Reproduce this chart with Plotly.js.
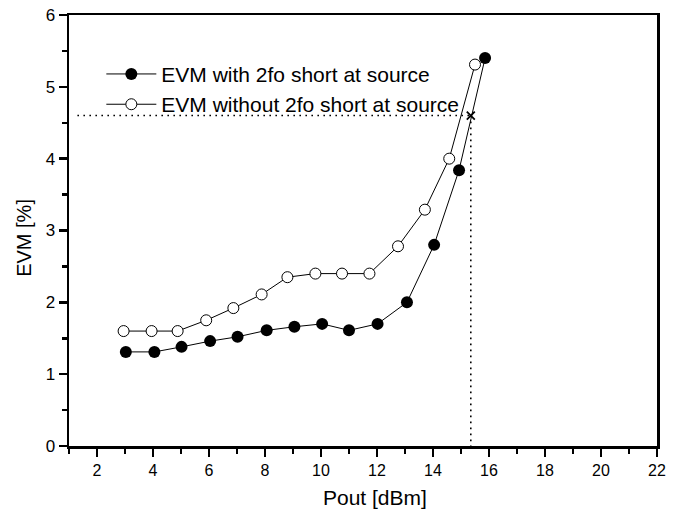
<!DOCTYPE html>
<html>
<head>
<meta charset="utf-8">
<script src="https://cdn.plot.ly/plotly-3.0.1.min.js"></script>
<style>html,body{margin:0;padding:0;background:#fff;}#chart{width:673px;height:512px;}</style>
</head>
<body>
<div id="chart"></div>
<script>
// Data
const withShortPout = [3.03, 4.05, 5.02, 6.04, 7.02, 8.06, 9.05, 10.04, 11.0, 12.02, 13.07, 14.04, 14.93, 15.86];
const withShortEVM  = [1.31, 1.31, 1.38, 1.46, 1.52, 1.61, 1.66, 1.70, 1.61, 1.70, 2.00, 2.80, 3.84, 5.40];
const withoutShortPout = [2.95, 3.95, 4.88, 5.90, 6.87, 7.88, 8.80, 9.80, 10.75, 11.73, 12.75, 13.71, 14.58, 15.50];
const withoutShortEVM  = [1.60, 1.60, 1.60, 1.75, 1.92, 2.11, 2.35, 2.40, 2.40, 2.40, 2.78, 3.29, 4.00, 5.31];
const seriesNames = ["EVM with 2fo short at source", "EVM without 2fo short at source"];
const xTitle = "Pout [dBm]";
const yTitle = "EVM [%]";
const evmLimit = 4.6;      // dotted horizontal guide level
const poutAtLimit = 15.35; // dotted vertical guide / cross marker
const guideStartPout = 1.3;
const yAxisMin = 0;
const xTickVals = [2, 4, 6, 8, 10, 12, 14, 16, 18, 20, 22];
const yTickVals = [0, 1, 2, 3, 4, 5, 6];

const FONT = "'Liberation Sans', Arial, sans-serif";

const traces = [
  {
    x: [guideStartPout, poutAtLimit], y: [evmLimit, evmLimit],
    mode: 'lines', showlegend: false, hoverinfo: 'skip',
    line: {color: '#000', width: 1.6, dash: '1.6px,4.4px'}
  },
  {
    x: [poutAtLimit, poutAtLimit], y: [evmLimit, yAxisMin],
    mode: 'lines', showlegend: false, hoverinfo: 'skip',
    line: {color: '#000', width: 1.6, dash: '1.6px,4.4px'}
  },
  {
    x: [poutAtLimit], y: [evmLimit],
    mode: 'markers', showlegend: false, hoverinfo: 'skip',
    marker: {symbol: 'x-thin', size: 8, line: {color: '#000', width: 1.8}}
  },
  {
    x: withoutShortPout, y: withoutShortEVM, name: seriesNames[1],
    mode: 'lines+markers',
    line: {color: '#000', width: 1},
    marker: {symbol: 'circle', size: 11, color: '#fff', line: {color: '#000', width: 1}}
  },
  {
    x: withShortPout, y: withShortEVM, name: seriesNames[0],
    mode: 'lines+markers',
    line: {color: '#000', width: 1},
    marker: {symbol: 'circle', size: 12, color: '#000', line: {color: '#000', width: 0}}
  }
];

const layout = {
  width: 673, height: 512,
  margin: {l: 69, r: 16, t: 15, b: 66},
  paper_bgcolor: '#fff', plot_bgcolor: '#fff',
  font: {family: FONT, color: '#000', size: 16},
  showlegend: true,
  legend: {
    x: 0.055, y: 0.91, xanchor: 'left', yanchor: 'top',
    bgcolor: 'rgba(0,0,0,0)', borderwidth: 0,
    font: {family: FONT, size: 21, color: '#000'},
    traceorder: 'reversed', itemwidth: 50, tracegroupgap: 0
  },
  xaxis: {
    range: [1, 22], tickvals: xTickVals, ticks: 'outside', ticklen: 8, tickwidth: 2.5, tickcolor: '#000',
    minor: {dtick: 1, tick0: 1, ticks: 'outside', ticklen: 5, tickwidth: 2.5, tickcolor: '#000'},
    showline: true, linewidth: 2.5, linecolor: '#000', mirror: true,
    showgrid: false, zeroline: false,
    tickfont: {family: FONT, size: 16, color: '#000'}
  },
  yaxis: {
    range: [0, 6], tickvals: yTickVals, ticks: 'outside', ticklen: 8, tickwidth: 2.5, tickcolor: '#000',
    minor: {dtick: 0.5, tick0: 0, ticks: 'outside', ticklen: 5, tickwidth: 2.5, tickcolor: '#000'},
    showline: true, linewidth: 2.5, linecolor: '#000', mirror: true,
    showgrid: false, zeroline: false,
    tickfont: {family: FONT, size: 17, color: '#000'}
  },
  annotations: [
    {
      text: xTitle, xref: 'paper', yref: 'paper', x: 0.52, y: -0.088,
      xanchor: 'center', yanchor: 'top', showarrow: false,
      font: {family: FONT, size: 21, color: '#000'}
    },
    {
      text: yTitle, xref: 'paper', yref: 'paper', x: -0.0765, y: 0.483,
      xanchor: 'center', yanchor: 'middle', showarrow: false, textangle: -90,
      font: {family: FONT, size: 20, color: '#000'}
    }
  ]
};

Plotly.newPlot('chart', traces, layout, {staticPlot: true, displayModeBar: false});
</script>
</body>
</html>
